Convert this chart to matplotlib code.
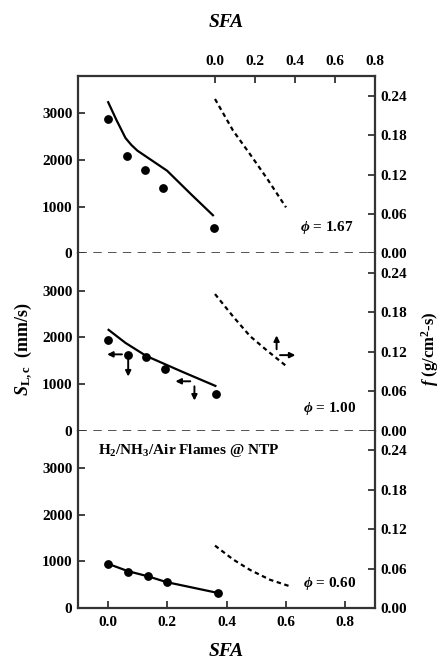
import matplotlib
matplotlib.use("Agg")
import matplotlib.pyplot as plt

plt.rcParams['font.family'] = ['Liberation Serif', 'DejaVu Serif']
plt.rcParams['font.weight'] = 'bold'
plt.rcParams['mathtext.fontset'] = 'custom'
plt.rcParams['mathtext.rm'] = 'Liberation Serif:bold'
plt.rcParams['mathtext.it'] = 'Liberation Serif:bold:italic'
plt.rcParams['mathtext.bf'] = 'Liberation Serif:bold'

# ---------------- data ----------------
# panel 1 (phi = 1.67)
p1_pts_x = [0.0, 0.065, 0.126, 0.187, 0.357]
p1_pts_y = [2870, 2080, 1790, 1410, 535]
p1_line_x = [0.0, 0.03, 0.06, 0.08, 0.10, 0.20, 0.28, 0.357]
p1_line_y = [3260, 2850, 2470, 2320, 2200, 1770, 1270, 800]
p1_f_x = [0.0, 0.09, 0.175, 0.26, 0.355]
p1_f_y = [0.235, 0.187, 0.151, 0.114, 0.070]

# panel 2 (phi = 1.00)
p2_pts_x = [0.0, 0.068, 0.13, 0.192, 0.363]
p2_pts_y = [1940, 1630, 1570, 1320, 785]
p2_line_x = [0.0, 0.06, 0.13, 0.25, 0.366]
p2_line_y = [2175, 1880, 1600, 1265, 950]
p2_f_x = [0.0, 0.09, 0.175, 0.26, 0.358]
p2_f_y = [0.208, 0.174, 0.144, 0.122, 0.098]

# panel 3 (phi = 0.60)
p3_pts_x = [0.0, 0.068, 0.135, 0.198, 0.373]
p3_pts_y = [940, 780, 690, 550, 330]
p3_line_x = [0.0, 0.068, 0.135, 0.198, 0.373]
p3_line_y = [950, 790, 680, 555, 320]
p3_f_x = [0.0, 0.09, 0.175, 0.275, 0.375]
p3_f_y = [0.095, 0.074, 0.058, 0.043, 0.033]

phi_labels = ["1.67", "1.00", "0.60"]

left_ticks = [0, 1000, 2000, 3000]
right_ticks = [0.00, 0.06, 0.12, 0.18, 0.24]
x_ticks = [0.0, 0.2, 0.4, 0.6, 0.8]

# bounds arrows in panel 2: (x_tail, y_tail, x_head, y_head)
p2_arrows_S = [(0.048, 1635, -0.002, 1635), (0.069, 1530, 0.069, 1160),
               (0.278, 1058, 0.228, 1058), (0.292, 950, 0.292, 645)]
p2_arrows_f = [(0.308, 0.124, 0.308, 0.145), (0.325, 0.115, 0.402, 0.115)]

panels = [
    (p1_pts_x, p1_pts_y, p1_line_x, p1_line_y, p1_f_x, p1_f_y),
    (p2_pts_x, p2_pts_y, p2_line_x, p2_line_y, p2_f_x, p2_f_y),
    (p3_pts_x, p3_pts_y, p3_line_x, p3_line_y, p3_f_x, p3_f_y),
]

# ---------------- figure ----------------
W, H = 441, 660
fig = plt.figure(figsize=(W / 100, H / 100), dpi=100)

L = 78 / W
R = 375 / W
B = (H - 608) / H
T = (H - 76) / H
ph = (T - B) / 3

spine_c = '#333333'
tick_fs = 11

phi_x = [0.738, 0.748, 0.748]
phi_y = [563, 482, 535]

for i, (px, py, lx, ly, fx, fy) in enumerate(panels):
    bottom = T - (i + 1) * ph
    ax = fig.add_axes([L, bottom, R - L, ph])
    axf = fig.add_axes([L, bottom, R - L, ph], frameon=False)
    axf.patch.set_alpha(0)

    ax.set_xlim(-0.1, 0.9)
    ax.set_ylim(0, 3800)
    axf.set_xlim(-0.685, 0.8)
    axf.set_ylim(0, 0.27)

    # left axis
    ax.set_yticks(left_ticks)
    ax.set_yticklabels([str(t) for t in left_ticks], fontsize=tick_fs, fontweight='bold')
    ax.tick_params(axis='y', direction='in', length=5, width=1.3, colors=spine_c,
                   labelcolor='black', right=False, pad=4)
    # bottom x
    ax.set_xticks(x_ticks)
    if i == 2:
        ax.set_xticklabels([f"{t:.1f}" for t in x_ticks], fontsize=tick_fs, fontweight='bold')
        ax.tick_params(axis='x', direction='in', length=5, width=1.3, colors=spine_c,
                       labelcolor='black', top=False, pad=6)
    else:
        ax.tick_params(axis='x', bottom=False, labelbottom=False, top=False)

    for s in ['left', 'right']:
        ax.spines[s].set_color(spine_c)
        ax.spines[s].set_linewidth(1.6)
    ax.spines['top'].set_visible(i == 0)
    ax.spines['bottom'].set_visible(i == 2)
    for s in ['top', 'bottom']:
        ax.spines[s].set_color(spine_c)
        ax.spines[s].set_linewidth(1.6)

    # right axis (f)
    axf.yaxis.tick_right()
    axf.set_yticks(right_ticks)
    axf.set_yticklabels([f"{t:.2f}" for t in right_ticks], fontsize=tick_fs, fontweight='bold')
    axf.tick_params(axis='y', direction='in', length=5, width=1.3, colors=spine_c,
                    labelcolor='black', left=False, pad=4)
    if i == 0:
        axf.xaxis.tick_top()
        axf.set_xticks(x_ticks)
        axf.set_xticklabels([f"{t:.1f}" for t in x_ticks], fontsize=tick_fs, fontweight='bold')
        axf.tick_params(axis='x', direction='in', length=5, width=1.3, colors=spine_c,
                        labelcolor='black', bottom=False, pad=6)
        axf.set_xlabel("SFA", fontsize=14, fontweight='bold', fontstyle='italic', labelpad=20)
        axf.xaxis.set_label_position('top')
    else:
        axf.tick_params(axis='x', top=False, bottom=False, labeltop=False, labelbottom=False)

    # data
    ax.plot(lx, ly, color='black', lw=1.6, solid_capstyle='butt')
    ax.plot(px, py, 'o', color='black', ms=5.3)
    axf.plot(fx, fy, color='black', lw=1.6, dashes=(2.0, 1.6))

    # dashed zero separator
    if i < 2:
        ax.axhline(0, color='#333333', lw=1.9, dashes=(3.2, 2.4), clip_on=False)

    ax.text(phi_x[i], phi_y[i], r"$\phi$ = " + phi_labels[i], fontsize=11,
            fontweight='bold', ha='center', va='center')

    if i == 1:
        for (x0, y0, x1, y1) in p2_arrows_S:
            ax.annotate("", xy=(x1, y1), xytext=(x0, y0),
                        arrowprops=dict(arrowstyle='-|>', color='black', lw=1.4,
                                        mutation_scale=8, shrinkA=0, shrinkB=0))
        for (x0, y0, x1, y1) in p2_arrows_f:
            axf.annotate("", xy=(x1, y1), xytext=(x0, y0),
                         arrowprops=dict(arrowstyle='-|>', color='black', lw=1.4,
                                         mutation_scale=8, shrinkA=0, shrinkB=0))
    if i == 2:
        ax.set_xlabel("SFA", fontsize=14, fontweight='bold', fontstyle='italic', labelpad=10)
        ax.text(-0.033, 3370, r"H$_2$/NH$_3$/Air Flames @ NTP", fontsize=11,
                fontweight='bold', ha='left', va='center')

# axis labels
fig.text(24 / W, 1 - 349 / H, r"$S_{\mathrm{L,c}}$  (mm/s)", rotation=90, fontsize=13,
         fontweight='bold', ha='center', va='center')
fig.text(430 / W, 1 - 349 / H, r"$f$ (g/cm$^2$-s)", rotation=90, fontsize=12,
         fontweight='bold', ha='center', va='center')

fig.savefig("out.png", dpi=100)
